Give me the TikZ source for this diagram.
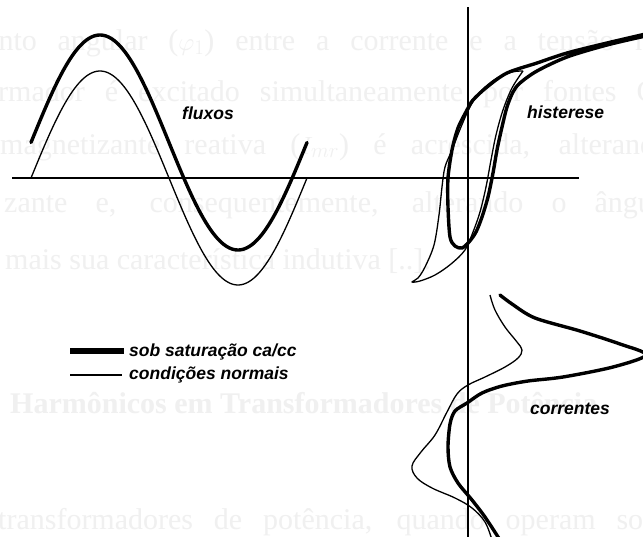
\documentclass[tikz,border=0pt]{standalone}
\usepackage{fontspec}
\setmainfont{Liberation Serif}
\newfontfamily\labfont{Liberation Sans}
\begin{document}
\begin{tikzpicture}[x=1pt,y=-1pt,
  bg/.style={text=black!6, font=\fontsize{30}{30}\selectfont, anchor=base west, inner sep=0pt},
  lab/.style={font=\labfont\bfseries\itshape\fontsize{17.5}{17.5}\selectfont, inner sep=0pt, anchor=west},
  thickc/.style={line width=3.4pt, line join=round, line cap=round},
  thinc/.style={line width=1.3pt, line join=round},
  axisline/.style={line width=1.1pt}]
\clip (0,0) rectangle (643,536);
\fill[white] (0,0) rectangle (643,536);
% faint background text of the scanned page
\node[bg] (b1) at (-15,50) {\makebox[680pt][s]{ento angular ($\varphi_{1}$) entre a corrente e a tensão no}};
\node[bg] (b2) at (-2,101) {\makebox[680pt][s]{rmador é excitado simultaneamente por fontes CA}};
\node[bg] (b3) at (0,154) {\makebox[670pt][s]{magnetizante reativa ($I_{mr}$) é acrescida, alterando}};
\node[bg] (b4) at (4,212) {\makebox[672pt][s]{zante e, consequentemente, alterando o ângulo}};
\node[bg] (b5) at (5,269) {mais sua característica indutiva [..].};
\node[bg, font=\bfseries\fontsize{30}{30}\selectfont] (b6) at (10,413) {Harmônicos em Transformadores de Potência};
\node[bg] (b7) at (-2,529) {\makebox[660pt][s]{transformadores de potência, quando operam sob}};
% axes
\coordinate (hl) at (12,178); \coordinate (hr) at (579,178);
\coordinate (vt) at (468,7); \coordinate (vb) at (468,540);
\draw[axisline] (hl) -- (hr);
\draw[axisline] (vt) -- (vb);
% fluxes
\draw[thinc] plot[domain=31:307, samples=140] (\x,{178-107*sin(1.3043*(\x-31))});
\draw[thickc] plot[domain=31:307, samples=140] (\x,{142.5-107.5*sin(1.3043*(\x-31))});
% hysteresis, thin (normal)
\draw[thinc] plot[smooth, tension=0.55] coordinates {(523,71) (512,72) (497,78) (482,90) (471,105) (461,127) (452,150) (445,167) (442,187) (439,215) (434,245) (425,267) (418,278) (412,282) (420,281) (435,275) (451,264) (465,250) (473,232) (480,212) (486,187) (491,160) (496,135) (503,110) (512,88) (523,71)};
% hysteresis, thick (saturation)
\draw[thickc] plot[smooth, tension=0.5] coordinates {(650,33) (607,43) (567,53) (537,63) (507,73) (487,87) (473,100) (467,110) (458,128) (452,150) (448,178) (448,207) (450,237) (455,246) (462,248) (469,242) (476,232) (482,217) (488,197) (493,173) (497,150) (502,127) (507,107) (513,92) (520,83) (537,71) (567,57) (607,45) (650,35)};
% currents, thin (normal)
\draw[thinc] plot[smooth, tension=0.6] coordinates {(490,295) (495,310) (505,327) (517,342) (522,350) (518,358) (505,367) (485,377) (468,385) (457,394) (447,412) (435,435) (421,452) (412,466) (417,478) (432,488) (455,498) (472,508) (485,522) (492,540)};
% currents, thick (saturation)
\draw[thickc] plot[smooth, tension=0.5] coordinates {(500,295) (512,304) (535,318) (580,331) (620,344) (646,355) (613,367) (563,377) (528,381) (502,386) (482,393) (467,403) (455,411) (450,424) (448,447) (450,467) (458,483) (472,500) (485,517) (500,540)};
% legend
\coordinate (l1a) at (70,351); \coordinate (l1b) at (124,351);
\coordinate (l2a) at (70,375); \coordinate (l2b) at (122,375);
\draw[line width=6.5pt] (l1a) -- (l1b);
\draw[thinc] (l2a) -- (l2b);
\node[lab] (leg1) at (129,352) {sob saturação ca/cc};
\node[lab] (leg2) at (129,375) {condições normais};
% labels
\node[lab] (flux) at (182,113) {fluxos};
\node[lab] (hist) at (527,112) {histerese};
\node[lab] (corr) at (530,409) {correntes};
\end{tikzpicture}
\end{document}
